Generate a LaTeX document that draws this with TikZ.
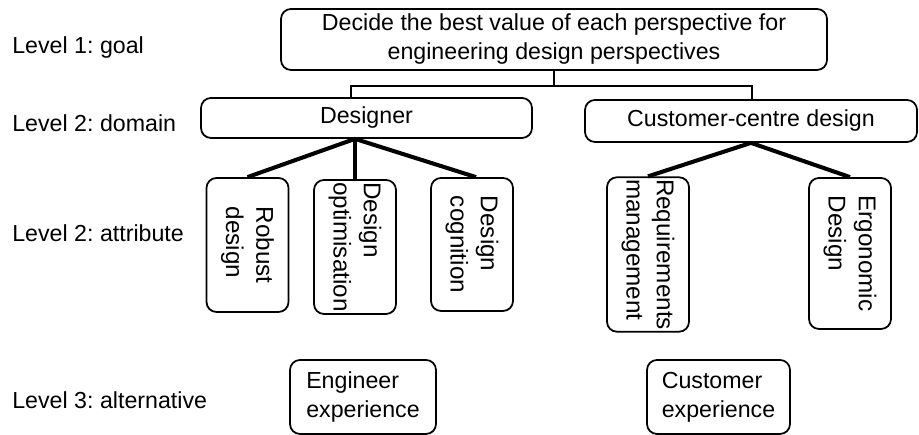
\documentclass[tikz,border=0pt]{standalone}
\usepackage{fontspec}
\setmainfont{Liberation Sans}
\frenchspacing
\usetikzlibrary{calc}

\begin{document}
\begin{tikzpicture}[
    block/.style={draw, line width=1pt, rounded corners=0.2cm, inner sep=2pt,
        align=center, font=\fontsize{13.2}{16.5}\selectfont},
    attr/.style={block, rotate=-90, align=left, inner sep=1pt,
        font=\fontsize{13.8}{17.2}\selectfont,
        minimum width=#1, minimum height=1.64cm},
    link/.style={line width=1pt},
    branch/.style={line width=2.3pt},
    level/.style={anchor=base west, inner sep=0pt,
        font=\fontsize{13.2}{16.5}\selectfont}
]
    \useasboundingbox (0, 0) rectangle (18.38, 8.7);

    % Level labels
    \node[level] (l1) at (0.24, 7.62) {Level 1: goal};
    \node[level] (l2) at (0.24, 6.06) {Level 2: domain};
    \node[level] (l3) at (0.24, 3.86) {Level 2: attribute};
    \node[level] (l4) at (0.24, 0.52) {Level 3: alternative};

    % Goal and domains
    \node[block, minimum width=10.92cm, minimum height=1.22cm] (goal) at (11.08, 7.91)
        {Decide the best value of each perspective for\\engineering design perspectives};
    \node[block, minimum width=6.62cm, minimum height=0.80cm] (designer) at (7.33, 6.34) {Designer};
    \node[block, minimum width=6.64cm, minimum height=0.84cm] (customer) at (15.02, 6.28) {Customer-centre design};

    % Attributes (text runs downwards, so .west is the top edge)
    \node[attr=2.68cm] (robust) at (4.95, 3.80) {Robust\\design};
    \node[attr=2.68cm] (optim) at (7.10, 3.76) {Design\\optimisation};
    \node[attr=2.66cm] (cognition) at (9.44, 3.81) {Design\\cognition};
    \node[attr=3.02cm] (requirements) at (12.96, 3.61) {Requirements\\management};
    \node[attr=3.02cm] (ergonomic) at (17.00, 3.63) {Ergonomic\\Design};

    % Alternatives
    \node[block, align=left, minimum width=2.92cm, minimum height=1.48cm] (engexp) at (7.26, 0.76)
        {Engineer\\experience};
    \node[block, align=left, minimum width=2.86cm, minimum height=1.48cm] (custexp) at (14.37, 0.76)
        {Customer\\experience};

    % Goal to domains
    \draw[link] (goal.south) -- ++(0, -0.3) coordinate (split)
        -| ([xshift=-0.31cm]designer.north);
    \draw[link] (split) -| ([xshift=0.02cm]customer.north);

    % Domains to attributes
    \coordinate (dfoot) at (designer.south -| optim.west);
    \draw[branch] (dfoot) -- (robust.west);
    \draw[branch] (dfoot) -- (optim.west);
    \draw[branch] (dfoot) -- ([xshift=0.08cm]cognition.west);
    \draw[branch] (customer.south) -- (requirements.west);
    \draw[branch] (customer.south) -- (ergonomic.west);
\end{tikzpicture}
\end{document}
